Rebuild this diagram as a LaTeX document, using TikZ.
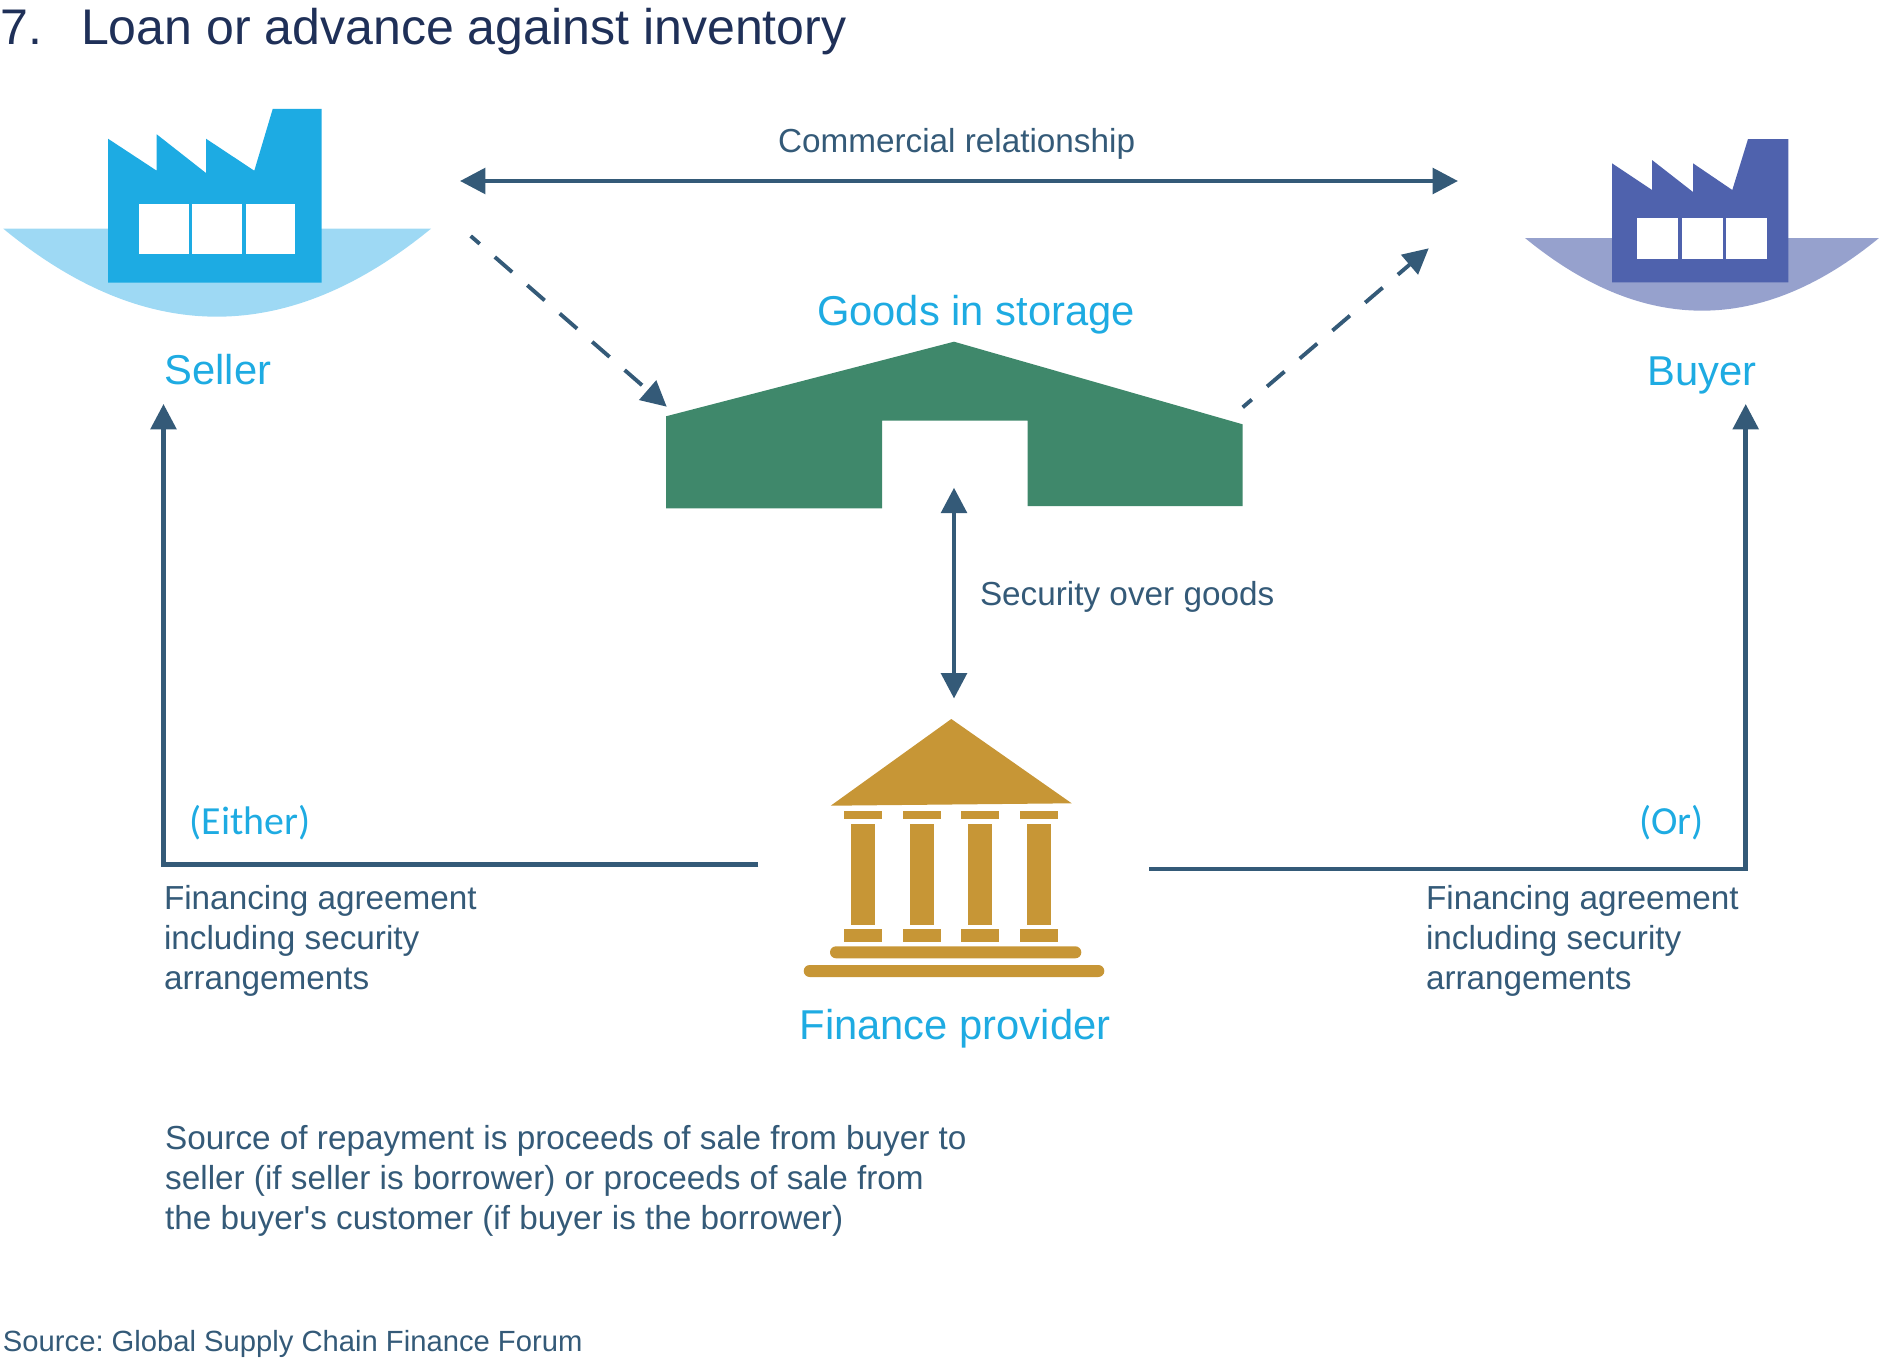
\documentclass[tikz,border=0pt]{standalone}
\usepackage{fontspec}
\setmainfont{Liberation Sans}
\newfontfamily\carlitofont{Carlito}
\usetikzlibrary{arrows.meta}
\definecolor{titleink}{HTML}{1F3058}
\definecolor{flowink}{HTML}{345A78}
\definecolor{labelblue}{HTML}{1EABE2}
\definecolor{sellerblue}{HTML}{1DABE3}
\definecolor{sellerpale}{HTML}{9ED9F4}
\definecolor{buyerblue}{HTML}{4F62AD}
\definecolor{buyerpale}{HTML}{96A1CD}
\definecolor{storegreen}{HTML}{3F886B}
\definecolor{bankgold}{HTML}{C79636}

\begin{document}
\frenchspacing
\begin{tikzpicture}[
  x=0.02cm,
  y=-0.02cm,
  every node/.style={inner sep=0pt, outer sep=0pt},
  flow/.style={flowink, line width=2.6pt, -{Triangle[length=14.4pt, width=14.4pt]}},
  twoway/.style={flowink, line width=2.6pt,
                 {Triangle[length=14.4pt, width=14.4pt]}-{Triangle[length=14.4pt, width=14.4pt]}},
  dashflow/.style={flowink, line width=2.2pt, dash pattern=on 13.1pt off 11.4pt,
                   dash phase=6.3pt, -{Triangle[length=14.4pt, width=14.4pt]}},
  maintext/.style={flowink, font=\fontsize{18.95}{22.76}\selectfont, align=left},
  smalltext/.style={flowink, font=\fontsize{16.62}{19.9}\selectfont},
  actortext/.style={labelblue, font=\fontsize{23.75}{28}\selectfont},
  ortext/.style={labelblue, font=\carlitofont\fontsize{22.7}{26}\selectfont},
  headtext/.style={titleink, font=\fontsize{28.5}{34}\selectfont},
  windowpane/.style={fill=white}
]
  \useasboundingbox (0,0) rectangle (1879,1362);

  % ---- heading ----
  \node[headtext, anchor=base west] (num) at (1,44.5) {7.};
  \node[headtext, anchor=base west] (heading) at (81,44.5) {Loan or advance against inventory};

  % ---- seller factory ----
  \fill[sellerpale] (3.3,228.7) .. controls (145.8,346) and (287.6,346) .. (431,228.7) -- cycle;
  \fill[sellerblue] (108,282.7) -- (108,138.7) -- (156.7,170.7) -- (156.7,134.3) -- (206,173)
    -- (206,138.7) -- (254.3,170.7) -- (272.7,109) -- (321.7,109) -- (321.7,282.7) -- cycle;
  \foreach \p in {139,192.3,245.7}
    \fill[windowpane] (\p,204) rectangle ++(49.7,49.7);

  % ---- buyer factory ----
  \fill[buyerpale] (1525,238) .. controls (1643,334.9) and (1761,334.9) .. (1879,238) -- cycle;
  \fill[buyerblue] (1612,282.3) -- (1612,163.3) -- (1652,190) -- (1652,160) -- (1693,192)
    -- (1693,163.3) -- (1732.3,190) -- (1748,139) -- (1788.3,139) -- (1788.3,282.3) -- cycle;
  \foreach \p in {1637.3,1681.7,1726}
    \fill[windowpane] (\p,217.7) rectangle ++(41,41);

  % ---- storage shed ----
  \fill[storegreen] (666,416.3) -- (954,341.7) -- (1242.6,424.3) -- (1242.6,506) -- (1027.5,506)
    -- (1027.5,420.7) -- (882,420.7) -- (882,508.3) -- (666,508.3) -- cycle;

  % ---- bank ----
  \fill[bankgold] (951.3,719) -- (1071.7,803.3) -- (830.7,805.7) -- cycle;
  \foreach \p in {844,903,961,1020} {
    \fill[bankgold] (\p,810.7) rectangle ++(38.3,8.6);
    \fill[bankgold] (\p+6.7,823.7) rectangle ++(24.6,101.3);
    \fill[bankgold] (\p,929.3) rectangle ++(38.3,12.7);
  }
  \fill[bankgold, rounded corners=3.4pt] (830,946.3) rectangle (1081.3,958.3);
  \fill[bankgold, rounded corners=3.4pt] (803.7,965) rectangle (1104.3,977);

  % ---- connector ends ----
  \coordinate (sellerE) at (460,181);
  \coordinate (buyerW) at (1458,181);
  \coordinate (sellerSE) at (470.7,236);
  \coordinate (shedNW) at (666.7,406.7);
  \coordinate (shedNE) at (1242.7,407.3);
  \coordinate (buyerSW) at (1428.7,248.3);
  \coordinate (shedS) at (954,487.7);
  \coordinate (bankN) at (954,698.5);
  \coordinate (bankW) at (758.4,864.3);
  \coordinate (bankE) at (1149,869);
  \coordinate (sellerS) at (163.5,404);
  \coordinate (buyerS) at (1745.7,404);

  % ---- connectors ----
  \draw[twoway] (sellerE) -- (buyerW);
  \draw[dashflow] (sellerSE) -- (shedNW);
  \draw[dashflow] (shedNE) -- (buyerSW);
  \draw[twoway] (shedS) -- (bankN);
  \draw[flow] (bankW) -| (sellerS);
  \draw[flow] (bankE) -| (buyerS);

  % ---- actor labels ----
  \node[actortext, anchor=base] (seller) at (217.8,384) {Seller};
  \node[actortext, anchor=base] (buyer) at (1702,385) {Buyer};
  \node[actortext, anchor=base] (goods) at (976,325) {Goods in storage};
  \node[actortext, anchor=base] (finance) at (955,1039.3) {Finance provider};

  % ---- connector labels ----
  \node[maintext, anchor=base west] (commercial) at (778,152.5) {Commercial relationship};
  \node[maintext, anchor=base west] (security) at (980,605) {Security over goods};
  \node[ortext, anchor=base west] (either) at (189.5,834) {(Either)};
  \node[ortext, anchor=base west] (orlabel) at (1639,834) {(Or)};
  \node[maintext, anchor=north west] (agreeleft) at (164,885)
    {Financing agreement\\including security\\arrangements};
  \node[maintext, anchor=north west] (agreeright) at (1426,885)
    {Financing agreement\\including security\\arrangements};

  % ---- notes ----
  \node[maintext, anchor=north west] (repay) at (165.2,1125)
    {Source of repayment is proceeds of sale from buyer to\\seller (if seller is borrower) or proceeds of sale from\\the buyer\textquotesingle s customer (if buyer is the borrower)};
  \node[smalltext, anchor=base west] (source) at (3,1351.7) {Source: Global Supply Chain Finance Forum};
\end{tikzpicture}
\end{document}
